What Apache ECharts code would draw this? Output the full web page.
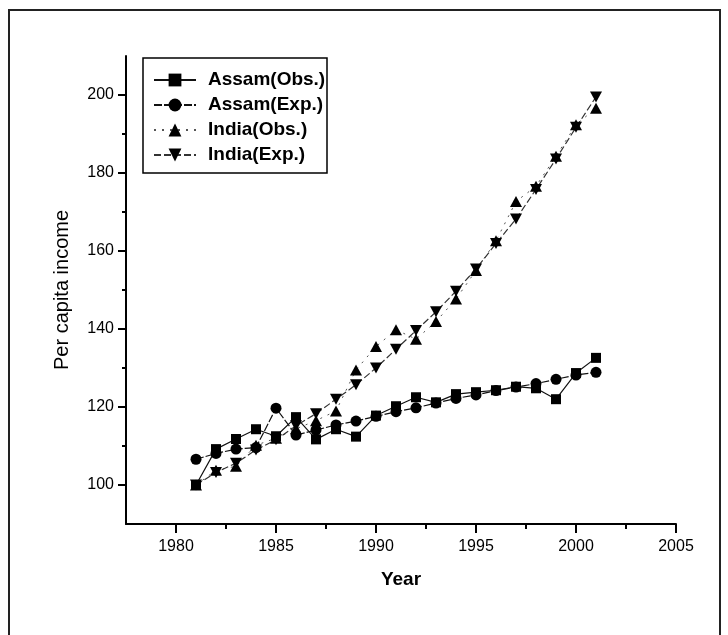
<!DOCTYPE html>
<html>
<head>
<meta charset="utf-8">
<script src="https://cdn.jsdelivr.net/npm/echarts@6/dist/echarts.min.js"></script>
<style>
html,body{margin:0;padding:0;background:#fff;}
#c{width:728px;height:635px;}
</style>
</head>
<body>
<div id="c"></div>
<script>
const years = [1981,1982,1983,1984,1985,1986,1987,1988,1989,1990,1991,1992,1993,1994,1995,1996,1997,1998,1999,2000,2001];
const assamObs = [100,109.2,111.8,114.3,112.5,117.4,111.7,114.3,112.4,117.8,120.2,122.5,121.2,123.3,123.8,124.3,125.2,124.8,122.0,128.7,132.6];
const assamExp = [106.6,108.1,109.2,109.6,119.7,112.8,114.1,115.4,116.4,117.6,118.8,119.8,121.0,122.2,123.1,124.2,125.1,126.0,127.1,128.2,128.9];
const indiaObs = [100,103.8,104.8,110.2,112.0,114.4,116.5,119.0,129.5,135.5,139.8,137.4,141.9,147.7,155.0,162.6,172.7,176.6,184.3,192.4,196.6];
const indiaExp = [100,103.2,105.6,109.0,111.6,115.2,118.3,122.0,125.7,130.0,134.8,139.6,144.4,149.7,155.4,161.9,168.2,175.8,183.6,191.7,199.5];
const seriesNames = ['Assam(Obs.)','Assam(Exp.)','India(Obs.)','India(Exp.)'];
const xTickLabels = [1980,1985,1990,1995,2000,2005];
const xMinorTicks = [1982.5,1987.5,1992.5,1997.5,2002.5];
const yTickLabels = [100,120,140,160,180,200];
const yMinorTicks = [110,130,150,170,190];

const pair = (arr) => years.map((y,i)=>[y,arr[i]]);
const FONT = '"Liberation Sans", Arial, sans-serif';
const downTri = 'path://M0,0 L12,0 L6,11 Z';

const chart = echarts.init(document.getElementById('c'), null, {renderer:'canvas'});
chart.setOption({
  animation:false,
  backgroundColor:'#fff',
  textStyle:{fontFamily:FONT,color:'#000'},
  graphic:[
    {type:'rect', shape:{x:9,y:10,width:711,height:640}, style:{fill:'none',stroke:'#222',lineWidth:2}, silent:true},
    {type:'rect', shape:{x:143,y:58,width:184,height:115}, style:{fill:'#fff',stroke:'#000',lineWidth:1.5}, z:-1, silent:true}
  ],
  legend:{
    orient:'vertical', left:153, top:70, padding:0,
    itemWidth:42, itemHeight:16, itemGap:5,
    data:seriesNames,
    textStyle:{fontFamily:FONT,fontSize:19,fontWeight:'bold',color:'#000',lineHeight:20,padding:[0,0,0,7]},
    z:10
  },
  grid:{left:126,right:52,top:56,bottom:111},
  xAxis:[{
    type:'value', min:1977.5, max:2005,
    name:'Year', nameLocation:'middle', nameGap:46,
    nameTextStyle:{fontFamily:FONT,fontSize:19,fontWeight:'bold',color:'#000'},
    axisLine:{show:true,lineStyle:{color:'#000',width:2}},
    axisTick:{show:true,customValues:xTickLabels,length:9,inside:false,lineStyle:{color:'#000',width:2}},
    axisLabel:{customValues:xTickLabels,margin:15,fontFamily:FONT,fontSize:16,color:'#000',formatter:(v)=>String(v)},
    splitLine:{show:false}
  },{
    type:'value', min:1977.5, max:2005, position:'bottom', offset:0,
    axisLine:{show:false},
    axisTick:{show:true,customValues:xMinorTicks,length:5,lineStyle:{color:'#000',width:2}},
    axisLabel:{show:false},
    splitLine:{show:false}
  }],
  yAxis:[{
    type:'value', min:90, max:210,
    name:'Per capita income', nameLocation:'middle', nameGap:54, nameRotate:90,
    nameTextStyle:{fontFamily:FONT,fontSize:20,color:'#000'},
    axisLine:{show:true,lineStyle:{color:'#000',width:2}},
    axisTick:{show:true,customValues:yTickLabels,length:8,lineStyle:{color:'#000',width:2}},
    axisLabel:{customValues:yTickLabels,margin:12,fontFamily:FONT,fontSize:16,color:'#000',formatter:(v)=>String(v)},
    splitLine:{show:false}
  },{
    type:'value', min:90, max:210, position:'left', offset:0,
    axisLine:{show:false},
    axisTick:{show:true,customValues:yMinorTicks,length:4,lineStyle:{color:'#000',width:2}},
    axisLabel:{show:false},
    splitLine:{show:false}
  }],
  series:[
    {name:seriesNames[0], type:'line', data:pair(assamObs), symbol:'rect', symbolSize:10,
     itemStyle:{color:'#000'}, lineStyle:{color:'#111',width:1.2,type:'solid'}},
    {name:seriesNames[1], type:'line', data:pair(assamExp), symbol:'circle', symbolSize:11,
     itemStyle:{color:'#000'}, lineStyle:{color:'#111',width:1.2,type:[8,2]}},
    {name:seriesNames[2], type:'line', data:pair(indiaObs), symbol:'triangle', symbolSize:[12,11],
     itemStyle:{color:'#000'}, lineStyle:{color:'#555',width:1,type:[2,6]}},
    {name:seriesNames[3], type:'line', data:pair(indiaExp), symbol:downTri, symbolSize:[12,11],
     itemStyle:{color:'#000'}, lineStyle:{color:'#333',width:1.2,type:[7,3]}}
  ]
});
</script>
</body>
</html>
